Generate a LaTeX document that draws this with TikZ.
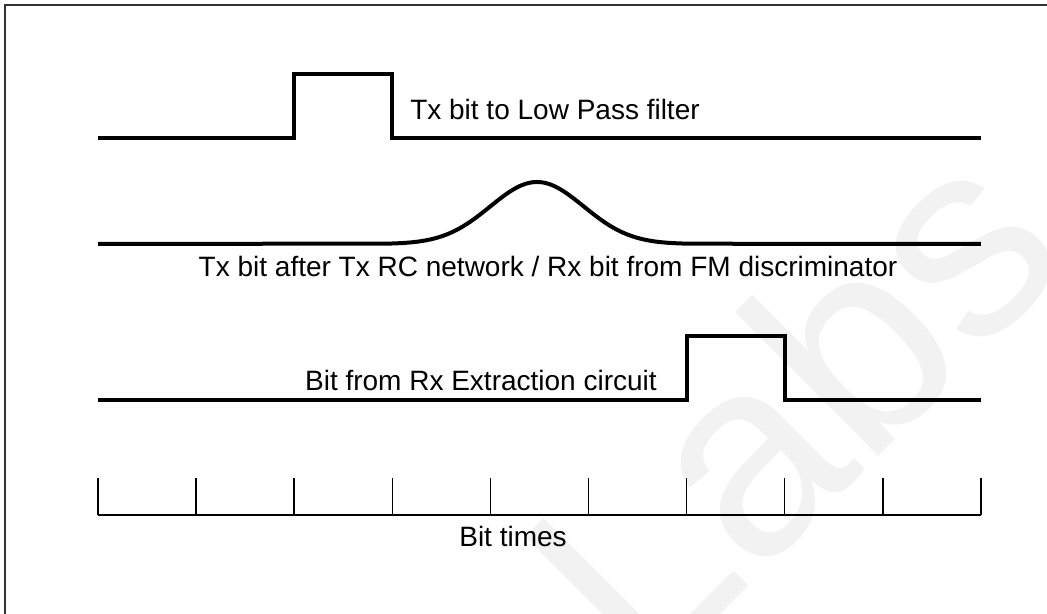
\documentclass[tikz,border=0pt]{standalone}
\usepackage{fontspec}
\setmainfont{Liberation Sans}
\definecolor{ink}{HTML}{000000}
\definecolor{rahmengrau}{HTML}{333333}
\definecolor{wasser}{HTML}{F2F2F2}
\newcommand{\beschr}{\fontsize{21}{25}\selectfont}
\newcommand{\riesig}{\fontsize{210}{250}\selectfont}
\tikzset{signal/.style={ink,line width=3pt,line join=miter},
  taktlinie/.style={ink,line width=1.1pt},
  rahmen/.style={rahmengrau,line width=1.5pt}}

\begin{document}
\begin{tikzpicture}[x=0.75pt,y=0.75pt]
\useasboundingbox (0,0) rectangle (1047,614);
\node[anchor=base west,rotate=45,inner sep=0,text=wasser,font=\riesig] (wasserzeichen) at (645,-76) {Labs};
\draw[rahmen] (5,-20) -- (5,609) -- (1070,609);
% Tx bit
\draw[signal] (98,476) -- (294.2,476) -- (294.2,540) -- (392.3,540) -- (392.3,476) -- (980.9,476);
\node[anchor=base west,inner sep=0,text=ink,font=\beschr] (txbit) at (410,494) {Tx bit to Low Pass filter};
% nach RC-Netzwerk
\draw[signal] (98,370) -- plot[domain=390:690,samples=91,smooth] (\x,{370+62*exp(-((\x-537)/66)^2)}) -- (980.9,370);
\node[anchor=base,inner sep=0,text=ink,font=\beschr] (rcbit) at (548,337) {Tx bit after Tx RC network / Rx bit from FM discriminator};
% Rx bit
\draw[signal] (98,214) -- (686.6,214) -- (686.6,278) -- (784.7,278) -- (784.7,214) -- (980.9,214);
\node[anchor=base east,inner sep=0,text=ink,font=\beschr] (rxbit) at (657,223) {Bit from Rx Extraction circuit};
% Bitzeiten
\draw[taktlinie] (98,99) -- (980.9,99);
\foreach \i in {0,...,9}
  \draw[taktlinie] ({98+98.1*\i},99) -- ({98+98.1*\i},136);
\node[anchor=base,inner sep=0,text=ink,font=\beschr] (bitzeit) at (513,67) {Bit times};
\end{tikzpicture}
\end{document}
